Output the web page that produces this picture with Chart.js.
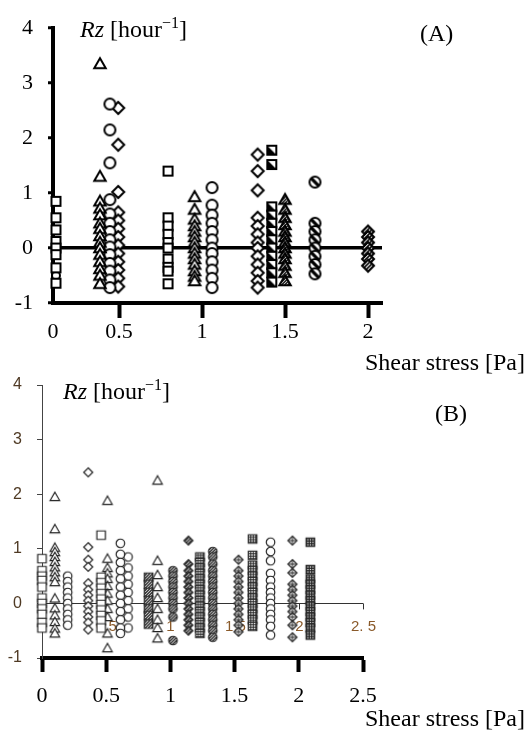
<!DOCTYPE html>
<html>
<head>
<meta charset="utf-8">
<script src="https://cdn.jsdelivr.net/npm/chart.js@4.4.1/dist/chart.umd.min.js"></script>
<style>
  body { margin: 0; background: #fff; }
  #wrap { position: relative; width: 531px; height: 732px; overflow: hidden; }
  canvas { position: absolute; left: 0; }
  .t { position: absolute; font-family: "Liberation Serif", "Times New Roman", serif; font-size: 24px; line-height: 24px; color: #000; white-space: nowrap; }
  .t sup { font-size: 16px; line-height: 0; vertical-align: 9px; }
</style>
</head>
<body>
<div id="wrap">
  <canvas id="chartA" width="531" height="345" style="top:0"></canvas>
  <canvas id="chartB" width="531" height="387" style="top:345px"></canvas>
  <div class="t" style="left:80px; top:17px"><i>Rz</i> [hour<sup>−1</sup>]</div>
  <div class="t" style="left:420px; top:21px">(A)</div>
  <div class="t" style="left:365px; top:350px">Shear stress [Pa]</div>
  <div class="t" style="left:63px; top:379px"><i>Rz</i> [hour<sup>−1</sup>]</div>
  <div class="t" style="left:435px; top:401px">(B)</div>
  <div class="t" style="left:365px; top:706px">Shear stress [Pa]</div>
</div>
<script>
// ---- chart A: shear stress of each group and its Rz values ----
const aShear = [0.12, 0.12, 0.385, 0.445, 0.495, 0.795, 0.955, 1.06, 1.335, 1.42, 1.5, 1.68, 2.0];
const rzA1 = [0.85, 0.55, 0.33, 0.12, 0.0, -0.12, -0.36, -0.64];
const rzA2 = [-0.5];
const rzA3 = [3.35, 1.3, 0.85, 0.72, 0.6, 0.45, 0.35, 0.22, 0.1, 0.0, -0.12, -0.25, -0.38, -0.5, -0.65];
const rzA4 = [2.62, 2.15, 1.55, 0.88, 0.62, 0.45, 0.3, 0.15, 0.02, -0.12, -0.28, -0.42, -0.58, -0.72];
const rzA5 = [2.55, 1.88, 1.02, 0.65, 0.5, 0.35, 0.2, 0.05, -0.1, -0.25, -0.4, -0.55, -0.7];
const rzA6 = [1.4, 0.55, 0.4, 0.25, 0.1, 0.0, -0.2, -0.35, -0.42, -0.65];
const rzA7 = [0.93, 0.7, 0.52, 0.4, 0.3, 0.2, 0.1, 0.0, -0.1, -0.2, -0.3, -0.42, -0.52, -0.6];
const rzA8 = [1.1, 0.78, 0.6, 0.45, 0.3, 0.15, 0.0, -0.1, -0.25, -0.4, -0.55, -0.72];
const rzA9 = [1.7, 1.4, 1.05, 0.55, 0.4, 0.25, 0.1, 0.0, -0.15, -0.3, -0.45, -0.6, -0.72];
const rzA10 = [1.78, 1.52, 0.75, 0.6, 0.45, 0.3, 0.15, 0.0, -0.15, -0.3, -0.45, -0.62];
const rzA11 = [0.88, 0.7, 0.55, 0.42, 0.3, 0.2, 0.1, 0.0, -0.1, -0.2, -0.32, -0.45, -0.6];
const rzA12 = [1.2, 0.45, 0.3, 0.15, 0.0, -0.15, -0.3, -0.47];
const rzA13 = [0.3, 0.2, 0.1, 0.0, -0.1, -0.2, -0.32];
const aTickVals = [0.102, 0.5, 1, 1.5, 2];
const aTickLabels = ["0", "0.5", "1", "1.5", "2"];

// ---- chart B ----
const bShear = [0.0, 0.10, 0.20, 0.36, 0.46, 0.51, 0.61, 0.67, 0.83, 0.90, 1.02, 1.14, 1.23, 1.33, 1.53, 1.64, 1.78, 1.95, 2.09];
const rzB1 = [0.82, 0.6, 0.5, 0.42, 0.3, 0.1, 0.0, -0.1, -0.2, -0.35, -0.45];
const rzB2 = [1.95, 1.36, 1.02, 0.94, 0.85, 0.76, 0.66, 0.57, 0.48, 0.39, 0.09, -0.09, -0.22, -0.34, -0.46, -0.55];
const rzB3 = [0.5, 0.4, 0.3, 0.2, 0.1, 0.0, -0.1, -0.2, -0.3, -0.4];
const rzB4 = [2.4, 1.03, 0.8, 0.67, 0.37, 0.25, 0.15, 0.05, -0.05, -0.15, -0.25, -0.35, -0.48];
const rzB5 = [1.25, 0.48, 0.38, 0.28, 0.18, 0.08, -0.02, -0.12, -0.22, -0.32, -0.45];
const rzB6 = [1.88, 0.82, 0.65, 0.55, 0.45, 0.32, 0.18, 0.05, -0.1, -0.25, -0.55, -0.82];
const rzB7 = [1.1, 0.9, 0.75, 0.6, 0.45, 0.3, 0.15, 0.0, -0.15, -0.3, -0.45, -0.55];
const rzB8 = [0.85, 0.65, 0.5, 0.35, 0.2, 0.05, -0.1, -0.25, -0.45];
const rzB9 = [0.48, 0.35, 0.2, 0.05, -0.1, -0.22, -0.38];
const rzB10 = [2.25, 0.78, 0.52, 0.3, 0.1, -0.1, -0.3, -0.45, -0.64];
const rzB11 = [0.6, 0.5, 0.4, 0.3, 0.2, 0.1, 0.0, -0.1, -0.25, -0.68];
const rzB12 = [1.15, 0.72, 0.6, 0.5, 0.4, 0.3, 0.2, 0.1, 0.0, -0.1, -0.2, -0.3, -0.4, -0.5];
const rzB13 = [0.85, 0.75, 0.65, 0.55, 0.45, 0.35, 0.25, 0.15, 0.05, -0.05, -0.15, -0.25, -0.35, -0.45, -0.55];
const rzB14 = [0.95, 0.85, 0.72, 0.6, 0.5, 0.4, 0.3, 0.2, 0.1, 0.0, -0.1, -0.2, -0.3, -0.4, -0.5, -0.62];
const rzB15 = [0.8, 0.6, 0.5, 0.4, 0.3, 0.2, 0.1, 0.0, -0.1, -0.2, -0.3, -0.4, -0.52];
const rzB16 = [1.18, 0.88, 0.7, 0.6, 0.5, 0.4, 0.3, 0.2, 0.1, 0.0, -0.1, -0.2, -0.3, -0.42];
const rzB17 = [1.12, 0.95, 0.78, 0.55, 0.42, 0.3, 0.2, 0.1, 0.0, -0.1, -0.2, -0.3, -0.42, -0.58];
const rzB18 = [1.15, 0.72, 0.56, 0.35, 0.25, 0.15, 0.05, -0.05, -0.15, -0.25, -0.4, -0.62];
const rzB19 = [1.12, 0.62, 0.45, 0.35, 0.25, 0.15, 0.05, -0.05, -0.15, -0.25, -0.35, -0.45, -0.58];
const bTickVals = [0, 0.5, 1, 1.5, 2, 2.5];
const bTickLabels = ["0", "0.5", "1", "1.5", "2", "2.5"];
const bInnerLabels = ["0", "0.5", "1", "1.5", "2", "2. 5"];

const aSeries = [rzA1, rzA2, rzA3, rzA4, rzA5, rzA6, rzA7, rzA8, rzA9, rzA10, rzA11, rzA12, rzA13];
const bSeries = [rzB1, rzB2, rzB3, rzB4, rzB5, rzB6, rzB7, rzB8, rzB9, rzB10, rzB11, rzB12, rzB13, rzB14, rzB15, rzB16, rzB17, rzB18, rzB19];

// marker look per group
const aShape = ["rect", "circle", "triangle", "circle", "diamond", "rect", "triangle", "circle", "diamond", "rect", "triangle", "circle", "diamond"];
const aFill = ["open", "open", "open", "open", "open", "open", "open", "open", "open", "half", "hatch", "slash", "dark"];
const bShape = ["rect", "triangle", "circle", "diamond", "rect", "triangle", "circle", "circle", "rect", "triangle", "circle", "diamond", "rect", "circle", "diamond", "rect", "circle", "diamond", "rect"];
const bFill = ["open", "open", "open", "open", "open", "open", "open", "open", "hatch", "open", "hatch", "hatch", "grid", "hatch", "cross", "grid", "open", "cross", "dots"];

function makeMarker(shape, size, lw, color, fill) {
  const s = Math.ceil(size + lw * 2 + 4);
  const c = document.createElement("canvas");
  c.width = s;
  c.height = s;
  const g = c.getContext("2d");
  const m = s / 2, r = size / 2;
  const path = () => {
    g.beginPath();
    if (shape === "rect") g.rect(m - r, m - r, size, size);
    else if (shape === "circle") g.arc(m, m, r, 0, Math.PI * 2);
    else if (shape === "diamond") { g.moveTo(m, m - r); g.lineTo(m + r, m); g.lineTo(m, m + r); g.lineTo(m - r, m); g.closePath(); }
    else { g.moveTo(m, m - r); g.lineTo(m + r, m + r * 0.75); g.lineTo(m - r, m + r * 0.75); g.closePath(); }
  };
  path();
  g.fillStyle = "#fff";
  g.fill();
  if (fill !== "open") {
    g.save();
    path();
    g.clip();
    g.fillStyle = color;
    g.strokeStyle = color;
    if (fill === "half") {
      g.beginPath(); g.moveTo(m - r, m - r); g.lineTo(m + r, m + r); g.lineTo(m - r, m + r); g.closePath(); g.fill();
    } else if (fill === "slash") {
      g.lineWidth = size * 0.3;
      g.beginPath(); g.moveTo(m - r, m - r); g.lineTo(m + r, m + r); g.stroke();
    } else if (fill === "hatch") {
      g.lineWidth = 1.3;
      for (let k = -size; k <= size; k += 3) { g.beginPath(); g.moveTo(m - r + k, m + r); g.lineTo(m + r + k, m - r); g.stroke(); }
    } else if (fill === "grid") {
      g.lineWidth = 1;
      for (let k = -r; k <= r; k += 2.5) { g.beginPath(); g.moveTo(m + k, m - r); g.lineTo(m + k, m + r); g.moveTo(m - r, m + k); g.lineTo(m + r, m + k); g.stroke(); }
    } else if (fill === "cross") {
      g.lineWidth = 1;
      g.beginPath(); g.moveTo(m, m - r); g.lineTo(m, m + r); g.moveTo(m - r, m); g.lineTo(m + r, m); g.stroke();
    } else if (fill === "dots") {
      g.fillRect(0, 0, s, s);
      g.fillStyle = "#fff";
      for (let i = -1; i <= 1; i++) for (let j = -1; j <= 1; j++) g.fillRect(m + i * 2.5 - 0.6, m + j * 2.5 - 0.6, 1.2, 1.2);
    } else if (fill === "dark") {
      g.fillRect(0, 0, s, s);
      g.strokeStyle = "#fff";
      g.lineWidth = 1.2;
      for (let k = -size; k <= size; k += 4) { g.beginPath(); g.moveTo(m - r + k, m + r); g.lineTo(m + r + k, m - r); g.stroke(); }
    }
    g.restore();
  }
  path();
  g.lineWidth = lw;
  g.strokeStyle = color;
  g.stroke();
  return c;
}

const aSize = { rect: 9, circle: 11, diamond: 12, triangle: 11.5 };
const bSize = { rect: 8.5, circle: 8.5, diamond: 9, triangle: 9.5 };

const aDatasets = aSeries.map((vals, i) => ({
  data: vals.map(v => ({ x: aShear[i], y: v })),
  pointStyle: makeMarker(aShape[i], i === 1 ? 8 : aSize[aShape[i]], 2, "#000", aFill[i]),
  pointRadius: 6,
  showLine: false,
  clip: false
}));

const bDatasets = bSeries.map((vals, i) => ({
  data: vals.map(v => ({ x: bShear[i], y: v })),
  pointStyle: makeMarker(bShape[i], bSize[bShape[i]], 1.2, "#222", bFill[i]),
  pointRadius: 5,
  showLine: false,
  clip: false
}));

const serif = "'Liberation Serif', 'Times New Roman', serif";

// Chart A
new Chart(document.getElementById("chartA"), {
  type: "scatter",
  data: { datasets: aDatasets },
  options: {
    responsive: false,
    animation: false,
    layout: { padding: { left: 0, right: 149, top: 14, bottom: 0 } },
    plugins: { legend: { display: false }, tooltip: { enabled: false } },
    scales: {
      x: {
        type: "linear",
        min: 0.102,
        max: 2.084,
        afterFit: s => { s.height = 42; },
        afterBuildTicks: s => { s.ticks = aTickVals.map(v => ({ value: v })); },
        border: { display: true, color: "#000", width: 4 },
        grid: {
          drawOnChartArea: false,
          drawTicks: true,
          tickLength: 15,
          tickWidth: 4,
          tickColor: ctx => (ctx.tick && ctx.tick.value < 0.2 ? "rgba(0,0,0,0)" : "#000")
        },
        ticks: {
          autoSkip: false,
          maxRotation: 0,
          padding: 1,
          color: "#000",
          font: { family: serif, size: 22 },
          callback: (v, i) => aTickLabels[i]
        }
      },
      y: {
        min: -1,
        max: 4,
        afterFit: s => { s.width = 53; },
        border: { display: true, color: "#000", width: 4 },
        grid: {
          drawTicks: true,
          tickLength: 5,
          tickWidth: 3,
          tickColor: "#000",
          lineWidth: 3.5,
          color: ctx => (ctx.tick && ctx.tick.value === 0 ? "#000" : "rgba(0,0,0,0)")
        },
        ticks: {
          stepSize: 1,
          padding: 15,
          color: "#000",
          font: { family: serif, size: 22 }
        }
      }
    }
  }
});

// small axis drawn along Rz = 0 inside chart B
const innerAxis = {
  id: "innerAxis",
  beforeDatasetsDraw(chart) {
    const { ctx, scales } = chart;
    const y0 = scales.y.getPixelForValue(0);
    ctx.save();
    ctx.strokeStyle = "#333";
    ctx.lineWidth = 1;
    ctx.fillStyle = "#8a5a2a";
    ctx.font = "15px 'Liberation Sans', sans-serif";
    ctx.textAlign = "center";
    ctx.textBaseline = "middle";
    bTickVals.forEach((v, i) => {
      const px = Math.round(scales.x.getPixelForValue(v)) + 0.5;
      ctx.beginPath();
      ctx.moveTo(px, y0);
      ctx.lineTo(px, y0 + 6);
      ctx.stroke();
      ctx.fillText(bInnerLabels[i], px, y0 + 23);
    });
    ctx.restore();
  }
};

// Chart B
new Chart(document.getElementById("chartB"), {
  type: "scatter",
  data: { datasets: bDatasets },
  plugins: [innerAxis],
  options: {
    responsive: false,
    animation: false,
    layout: { padding: { left: 0, right: 168, top: 40, bottom: 0 } },
    plugins: { legend: { display: false }, tooltip: { enabled: false } },
    scales: {
      x: {
        type: "linear",
        min: 0,
        max: 2.5,
        afterFit: s => { s.height = 74; },
        afterBuildTicks: s => { s.ticks = bTickVals.map(v => ({ value: v })); },
        border: { display: true, color: "#000", width: 4 },
        grid: {
          drawOnChartArea: false,
          drawTicks: true,
          tickLength: 14,
          tickWidth: 4,
          tickColor: "#000"
        },
        ticks: {
          autoSkip: false,
          maxRotation: 0,
          padding: 11,
          color: "#000",
          font: { family: serif, size: 22 },
          callback: (v, i) => bTickLabels[i]
        }
      },
      y: {
        min: -1,
        max: 4,
        afterFit: s => { s.width = 42; },
        border: { display: true, color: "#444", width: 1 },
        grid: {
          drawTicks: true,
          tickLength: 5,
          tickWidth: 1,
          tickColor: "#444",
          lineWidth: 1,
          color: ctx => (ctx.tick && ctx.tick.value === 0 ? "#333" : "rgba(0,0,0,0)")
        },
        ticks: {
          stepSize: 1,
          padding: 15,
          color: "#4f3a24",
          font: { family: "'Liberation Sans', Arial, sans-serif", size: 16 }
        }
      }
    }
  }
});
</script>
</body>
</html>
